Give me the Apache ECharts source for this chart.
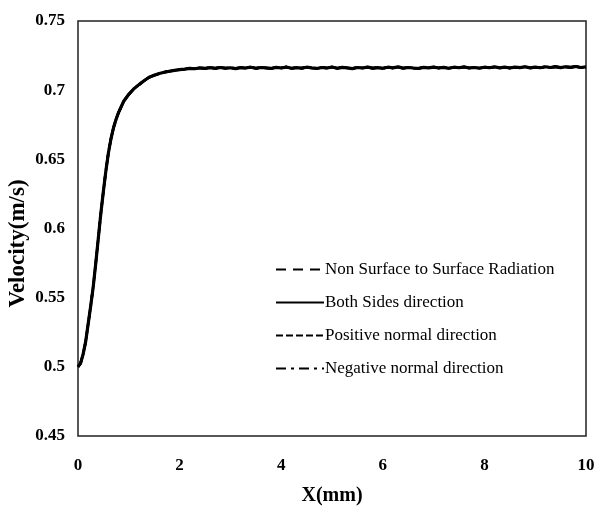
<!DOCTYPE html>
<html>
<head>
<meta charset="utf-8">
<script src="https://cdn.jsdelivr.net/npm/echarts@6/dist/echarts.min.js"></script>
<style>
  html, body { margin: 0; padding: 0; background: #fff; }
  #chart { width: 595px; height: 514px; }
</style>
</head>
<body>
<div id="chart"></div>
<script>
// Position along the channel (mm)
const positionMm = [
  0, 0.05, 0.1, 0.15, 0.2, 0.25, 0.3, 0.35, 0.4, 0.45, 0.5, 0.55, 0.6, 0.65, 0.7, 0.75, 0.8, 0.9,
  1.0, 1.1, 1.2, 1.3, 1.4, 1.5, 1.6, 1.7, 1.8, 1.9, 2.0,
  2.1, 2.2, 2.3, 2.4, 2.5, 2.6, 2.7, 2.8, 2.9, 3.0,
  3.1, 3.2, 3.3, 3.4, 3.5, 3.6, 3.7, 3.8, 3.9, 4.0,
  4.1, 4.2, 4.3, 4.4, 4.5, 4.6, 4.7, 4.8, 4.9, 5.0,
  5.1, 5.2, 5.3, 5.4, 5.5, 5.6, 5.7, 5.8, 5.9, 6.0,
  6.1, 6.2, 6.3, 6.4, 6.5, 6.6, 6.7, 6.8, 6.9, 7.0,
  7.1, 7.2, 7.3, 7.4, 7.5, 7.6, 7.7, 7.8, 7.9, 8.0,
  8.1, 8.2, 8.3, 8.4, 8.5, 8.6, 8.7, 8.8, 8.9, 9.0,
  9.1, 9.2, 9.3, 9.4, 9.5, 9.6, 9.7, 9.8, 9.9, 10.0
];

// Velocity (m/s); the four radiation cases give the same profile
const velocity = [
  0.5000, 0.5025, 0.5090, 0.5180, 0.5310, 0.5440, 0.5580, 0.5750, 0.5930, 0.6110, 0.6270, 0.6420, 0.6550, 0.6650, 0.6730, 0.6790, 0.6840, 0.6920,
  0.6970, 0.7010, 0.7040, 0.7068, 0.7093, 0.7108, 0.7120, 0.7130, 0.7137, 0.7143, 0.7148,
  0.7152, 0.7158, 0.7155, 0.7161, 0.7157, 0.7163, 0.7158, 0.7164, 0.7159, 0.7162,
  0.7156, 0.7163, 0.7160, 0.7166, 0.7158, 0.7164, 0.7161, 0.7157, 0.7165, 0.7160,
  0.7167, 0.7158, 0.7163, 0.7159, 0.7166, 0.7161, 0.7157, 0.7164, 0.7160, 0.7167,
  0.7158, 0.7165, 0.7161, 0.7156, 0.7164, 0.7160, 0.7167, 0.7159, 0.7163, 0.7158,
  0.7166, 0.7161, 0.7168, 0.7159, 0.7164, 0.7160, 0.7157, 0.7165, 0.7161, 0.7167,
  0.7160, 0.7165, 0.7158, 0.7166, 0.7162, 0.7168, 0.7160, 0.7164, 0.7159, 0.7166,
  0.7162, 0.7168, 0.7161, 0.7166, 0.7160, 0.7167, 0.7163, 0.7169, 0.7161, 0.7166,
  0.7162, 0.7169, 0.7164, 0.7170, 0.7163, 0.7169, 0.7165, 0.7171, 0.7164, 0.7168
];

const seriesNames = [
  'Non Surface to Surface Radiation',
  'Both Sides direction',
  'Positive normal direction',
  'Negative normal direction'
];

const xTickLabels = ['0', '2', '4', '6', '8', '10'];
const yTickLabels = ['0.45', '0.5', '0.55', '0.6', '0.65', '0.7', '0.75'];

const serif = "'Liberation Serif', 'Times New Roman', serif";
const points = positionMm.map((x, i) => [x, velocity[i]]);

const lineTypes = [
  [10, 7],
  'solid',
  [7, 3],
  [10, 5, 3, 5]
];
const drawOrder = [0, 2, 3, 1];

const chart = echarts.init(document.getElementById('chart'), null, { renderer: 'canvas' });

chart.setOption({
  animation: false,
  backgroundColor: '#fff',
  grid: {
    left: 78, right: 9, top: 21, bottom: 78,
    containLabel: false, outerBoundsMode: 'none',
    show: true, borderColor: '#222', borderWidth: 1.5, backgroundColor: 'transparent'
  },
  legend: {
    orient: 'vertical',
    left: 270, top: 256,
    itemWidth: 48, itemHeight: 14, itemGap: 16,
    data: seriesNames,
    textStyle: { fontFamily: serif, fontSize: 17, color: '#000', padding: [0, 0, 0, -4] },
    itemStyle: { opacity: 0 }
  },
  xAxis: {
    type: 'value', min: 0, max: 10, interval: 2,
    name: 'X(mm)', nameLocation: 'middle', nameGap: 50, nameMoveOverlap: false,
    nameTextStyle: { fontFamily: serif, fontSize: 20, fontWeight: 'bold', color: '#000' },
    axisLine: { show: false }, axisTick: { show: false }, splitLine: { show: false },
    axisLabel: {
      margin: 21, fontFamily: serif, fontSize: 17, fontWeight: 'bold', color: '#000',
      formatter: (v) => xTickLabels[Math.round(v / 2)]
    }
  },
  yAxis: {
    type: 'value', min: 0.45, max: 0.75, interval: 0.05,
    name: 'Velocity(m/s)', nameLocation: 'middle', nameGap: 48, nameRotate: 90,
    nameMoveOverlap: false,
    nameTextStyle: {
      fontFamily: serif, fontSize: 23, fontWeight: 'bold', color: '#000',
      padding: [0, 30, 0, 0]
    },
    axisLine: { show: false }, axisTick: { show: false }, splitLine: { show: false },
    axisLabel: {
      margin: 13, fontFamily: serif, fontSize: 17, fontWeight: 'bold', color: '#000',
      formatter: (v) => yTickLabels[Math.round((v - 0.45) / 0.05)]
    }
  },
  series: drawOrder.map((k, idx) => ({
    name: seriesNames[k],
    type: 'line',
    data: points,
    symbol: 'none',
    smooth: false,
    z: 2 + idx,
    lineStyle: { color: '#000', width: k === 1 ? 3.2 : 2.5, type: lineTypes[k] },
    itemStyle: { color: '#000' }
  }))
});
</script>
</body>
</html>
